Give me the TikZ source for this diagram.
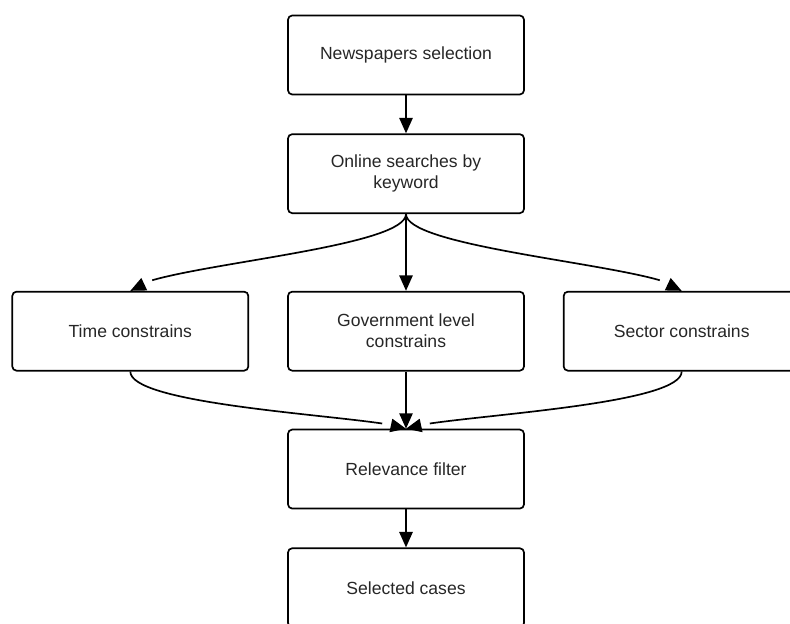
\documentclass[tikz,border=0pt]{standalone}
\usepackage{fontspec}
\setmainfont{Liberation Sans}
\usetikzlibrary{arrows.meta, positioning, bending}

\begin{document}
\begin{tikzpicture}[
    box/.style={draw, rounded corners=3pt, line width=1.2pt, minimum width=5.9cm, minimum height=1.975cm,
                align=center, text=black!85, font=\fontsize{12.5}{15}\selectfont},
    arrow/.style={-{Triangle[length=11pt, width=9.5pt, flex]}, line width=1.2pt},
    node distance=0.95cm,
]
\clip (0,0) rectangle (19.75,-15.6);
\node[box] (news) at (10.15,-1.375) {Newspapers selection};
\node[box, below=of news] (search) {Online searches by\\keyword};
\node[box, below=1.92cm of search] (gov) {Government level\\constrains};
\node[box, left=of gov] (time) {Time constrains};
\node[box, right=of gov] (sector) {Sector constrains};
\node[box, below=1.43cm of gov] (filter) {Relevance filter};
\node[box, below=of filter] (cases) {Selected cases};
\draw[arrow] (news) -- (search);
\draw[arrow] (search) -- (gov);
\draw[arrow] (search.south) .. controls +(0,-0.9) and +(0.35,0.6) .. (time.north);
\draw[arrow] (search.south) .. controls +(0,-0.9) and +(-0.35,0.6) .. (sector.north);
\draw[arrow] (gov) -- (filter);
\draw[arrow] (time.south) .. controls +(0,-0.9) and +(-0.6,0.3) .. (filter.north);
\draw[arrow] (sector.south) .. controls +(0,-0.9) and +(0.6,0.3) .. (filter.north);
\draw[arrow] (filter) -- (cases);
\end{tikzpicture}
\end{document}
